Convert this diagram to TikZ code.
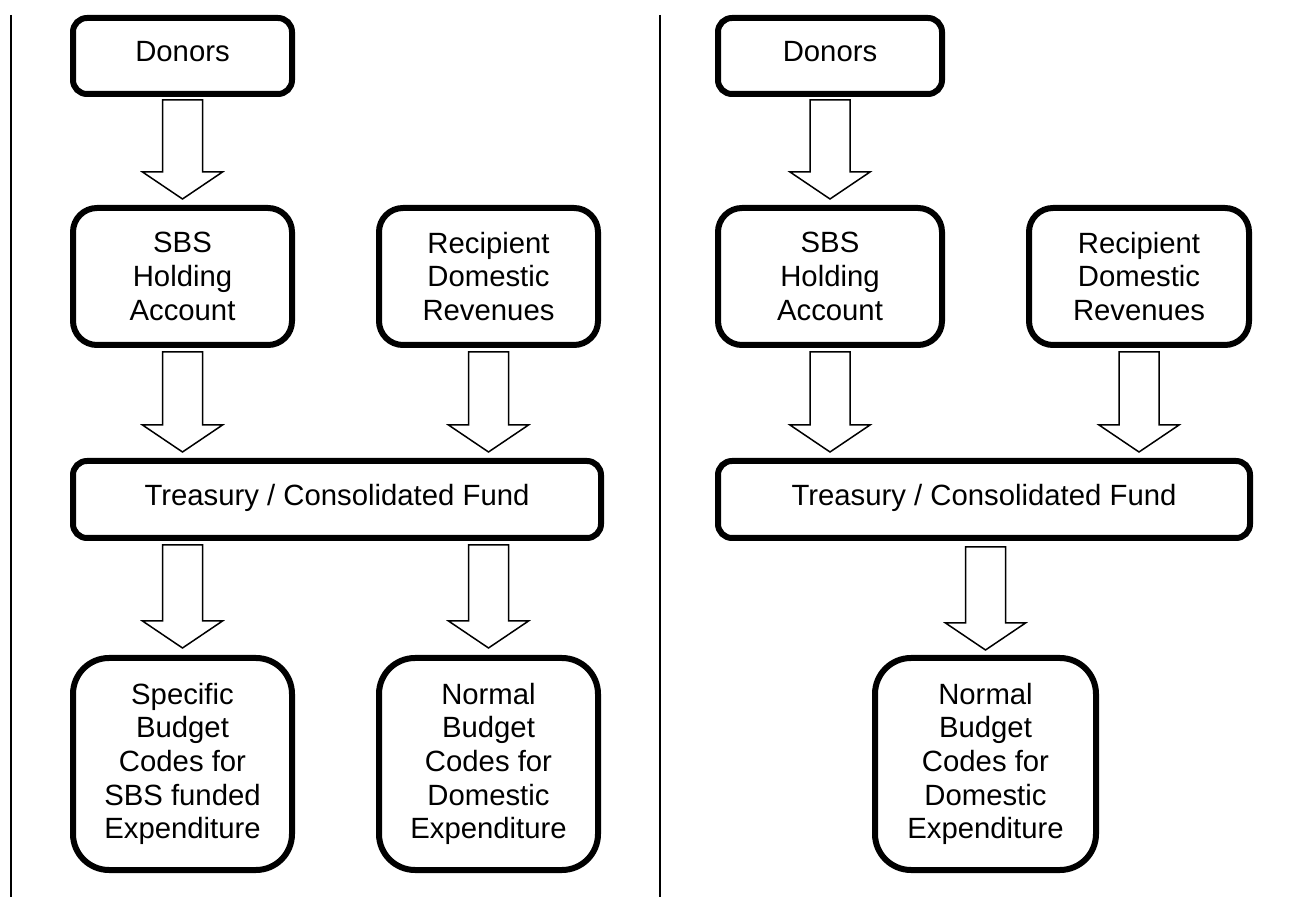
\documentclass[tikz,border=0pt]{standalone}
\usepackage{fontspec}
\setmainfont{Liberation Sans}
\usetikzlibrary{calc}

\begin{document}
\begin{tikzpicture}[x=0.5pt,y=-0.5pt,
  flowbox/.style={draw=black, line width=3pt, fill=white, align=center,
    inner sep=0pt, font=\fontsize{14.65pt}{16.8pt}\selectfont},
  onelinebox/.style={flowbox, rounded corners=7pt, text height=10.5pt, text depth=4.5pt},
  midbox/.style={flowbox, rounded corners=12pt},
  tallbox/.style={flowbox, rounded corners=18pt, yshift=-1.5pt},
  blockarr/.style={draw=black, line width=0.75pt, fill=white, line join=miter,
    to path={let \p1=(\tikztostart), \p2=(\tikztotarget) in
      (\x1-10pt,\y1) -- (\x1+10pt,\y1) -- (\x1+10pt,\y2+13.5pt)
      -- (\x1+20pt,\y2+13.5pt) -- (\x1,\y2) -- (\x1-20pt,\y2+13.5pt)
      -- (\x1-10pt,\y2+13.5pt) -- cycle}},
  divider/.style={draw=black, line width=1pt}]

\useasboundingbox (0,0) rectangle (1296,897);

% panel dividers
\draw[divider] (11,15) -- (11,897);
\draw[divider] (660,15) -- (660,897);

% ---- left panel: SBS funds kept on separate budget codes ----
\node[onelinebox, minimum width=109.5pt, minimum height=38pt] (donL) at (182.5,56) {Donors};
\node[midbox, minimum width=109.5pt, minimum height=68.5pt] (sbsL) at (182.5,276.5) {SBS\\Holding\\Account};
\node[midbox, minimum width=109.5pt, minimum height=68.5pt] (recL) at (488.5,276.5) {Recipient\\Domestic\\Revenues};
\node[onelinebox, minimum width=264pt, minimum height=38.5pt] (trsL) at (337,499.5) {Treasury / Consolidated Fund};
\node[tallbox, minimum width=109.5pt, minimum height=106pt] (spcL) at (182.5,761) {Specific\\Budget\\Codes for\\SBS funded\\Expenditure};
\node[tallbox, minimum width=109.5pt, minimum height=106pt] (nrmL) at (488.5,761) {Normal\\Budget\\Codes for\\Domestic\\Expenditure};

\draw[blockarr] ($(donL.south)+(0,3)$) to ($(sbsL.north)+(0,-6)$);
\draw[blockarr] ($(sbsL.south)+(0,4)$) to ($(sbsL |- trsL.north)+(0,-6)$);
\draw[blockarr] ($(recL.south)+(0,4)$) to ($(recL |- trsL.north)+(0,-6)$);
\draw[blockarr] ($(spcL |- trsL.south)+(0,4)$) to ($(spcL.north)+(0,-7)$);
\draw[blockarr] ($(nrmL |- trsL.south)+(0,4)$) to ($(nrmL.north)+(0,-7)$);

% ---- right panel: SBS funds merged into normal budget codes ----
\node[onelinebox, minimum width=112pt, minimum height=38pt] (donR) at (830,56) {Donors};
\node[midbox, minimum width=112pt, minimum height=68.5pt] (sbsR) at (830,276.5) {SBS\\Holding\\Account};
\node[midbox, minimum width=110pt, minimum height=68.5pt] (recR) at (1139,276.5) {Recipient\\Domestic\\Revenues};
\node[onelinebox, minimum width=266pt, minimum height=38.5pt] (trsR) at (984,499.5) {Treasury / Consolidated Fund};
\node[tallbox, minimum width=110.5pt, minimum height=106pt] (nrmR) at (985.5,761) {Normal\\Budget\\Codes for\\Domestic\\Expenditure};

\draw[blockarr] ($(donR.south)+(0,3)$) to ($(sbsR.north)+(0,-6)$);
\draw[blockarr] ($(sbsR.south)+(0,4)$) to ($(sbsR |- trsR.north)+(0,-6)$);
\draw[blockarr] ($(recR.south)+(0,4)$) to ($(recR |- trsR.north)+(0,-6)$);
\draw[blockarr] ($(nrmR |- trsR.south)+(0,6)$) to ($(nrmR.north)+(0,-5)$);
\end{tikzpicture}
\end{document}
